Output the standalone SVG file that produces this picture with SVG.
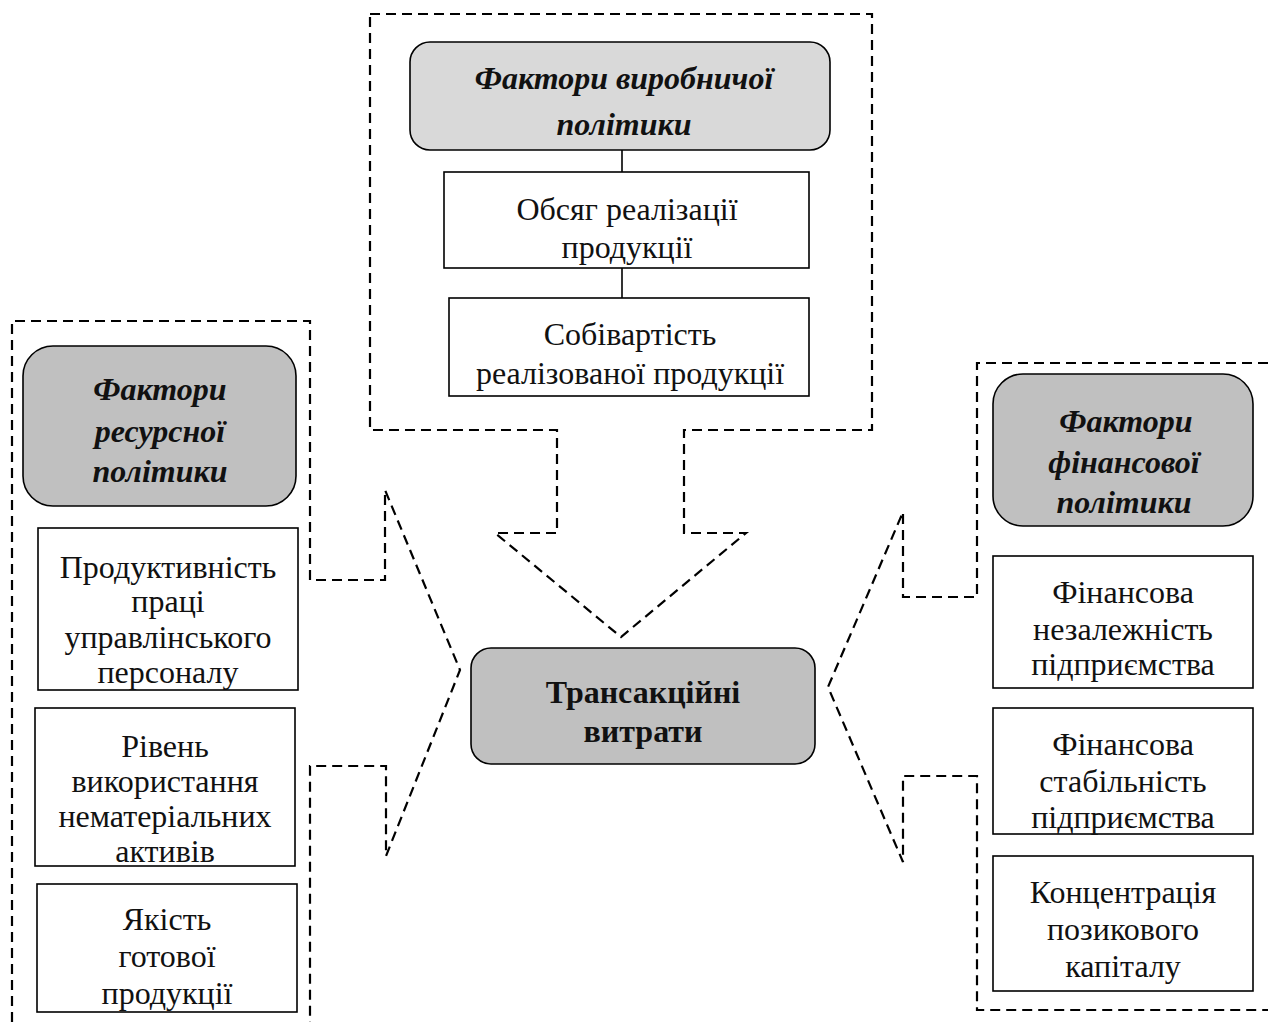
<svg xmlns="http://www.w3.org/2000/svg" width="1268" height="1022" viewBox="0 0 1268 1022">
  <style>
    .dash { fill: none; stroke: #000; stroke-width: 2.2; stroke-dasharray: 10 6; stroke-linejoin: miter; }
    .box { fill: #fff; stroke: #000; stroke-width: 1.6; }
    .head { fill: #c0c0c0; stroke: #000; stroke-width: 1.6; }
    .head-light { fill: #d9d9d9; stroke: #000; stroke-width: 1.6; }
    .link { stroke: #000; stroke-width: 1.6; }
    text { font-family: "Liberation Serif", "Times New Roman", serif; font-size: 32px; fill: #111; text-anchor: middle; }
    .hd { font-weight: bold; font-style: italic; }
    .bd { font-weight: bold; }
  </style>
  <rect width="1268" height="1022" fill="#fff"/>

  <!-- dashed outlines: each policy group with its arrow toward the centre -->
  <g id="connectors">
    <path class="dash" d="M370,14 H872 V430 H684 V533 H746 L621,637 L495,533 H557 V430 H370 Z"/>
    <path class="dash" d="M12,1022 V321 H310 V580 H385 V490 L460,670 L386,856 V766 H310 V1022"/>
    <path class="dash" d="M1268,363 H977 V597 H903 V512 L828,687 L903,862 V776 H977 V1010 H1268"/>
    <line class="link" x1="622" y1="150" x2="622" y2="172"/>
    <line class="link" x1="622" y1="268" x2="622" y2="298"/>
  </g>

  <!-- production policy -->
  <g id="production-head">
    <rect class="head-light" x="410" y="42" width="420" height="108" rx="20"/>
    <text class="hd" x="624" y="89">Фактори виробничої</text>
    <text class="hd" x="624" y="135">політики</text>
  </g>
  <g id="sales-volume">
    <rect class="box" x="444" y="172" width="365" height="96"/>
    <text x="627" y="220">Обсяг реалізації</text>
    <text x="627" y="258">продукції</text>
  </g>
  <g id="cost-of-sales">
    <rect class="box" x="449" y="298" width="360" height="98"/>
    <text x="630" y="345">Собівартість</text>
    <text x="630" y="384">реалізованої продукції</text>
  </g>

  <!-- resource policy -->
  <g id="resource-head">
    <rect class="head" x="23" y="346" width="273" height="160" rx="30"/>
    <text class="hd" x="160" y="400">Фактори</text>
    <text class="hd" x="160" y="442">ресурсної</text>
    <text class="hd" x="160" y="482">політики</text>
  </g>
  <g id="labour-productivity">
    <rect class="box" x="38" y="528" width="260" height="162"/>
    <text x="168" y="578">Продуктивність</text>
    <text x="168" y="612">праці</text>
    <text x="168" y="648">управлінського</text>
    <text x="168" y="683">персоналу</text>
  </g>
  <g id="intangible-assets">
    <rect class="box" x="35" y="708" width="260" height="158"/>
    <text x="165" y="757">Рівень</text>
    <text x="165" y="792">використання</text>
    <text x="165" y="827">нематеріальних</text>
    <text x="165" y="862">активів</text>
  </g>
  <g id="product-quality">
    <rect class="box" x="37" y="884" width="260" height="128"/>
    <text x="167" y="930">Якість</text>
    <text x="167" y="967">готової</text>
    <text x="167" y="1004">продукції</text>
  </g>

  <!-- centre -->
  <g id="transaction-costs">
    <rect class="head" x="471" y="648" width="344" height="116" rx="20"/>
    <text class="bd" x="643" y="703">Трансакційні</text>
    <text class="bd" x="643" y="742">витрати</text>
  </g>

  <!-- financial policy -->
  <g id="financial-head">
    <rect class="head" x="993" y="374" width="260" height="152" rx="30"/>
    <text class="hd" x="1126" y="432">Фактори</text>
    <text class="hd" x="1124" y="473">фінансової</text>
    <text class="hd" x="1124" y="513">політики</text>
  </g>
  <g id="financial-independence">
    <rect class="box" x="993" y="556" width="260" height="132"/>
    <text x="1123" y="603">Фінансова</text>
    <text x="1123" y="640">незалежність</text>
    <text x="1123" y="675">підприємства</text>
  </g>
  <g id="financial-stability">
    <rect class="box" x="993" y="708" width="260" height="126"/>
    <text x="1123" y="755">Фінансова</text>
    <text x="1123" y="792">стабільність</text>
    <text x="1123" y="828">підприємства</text>
  </g>
  <g id="borrowed-capital">
    <rect class="box" x="993" y="856" width="260" height="135"/>
    <text x="1123" y="903">Концентрація</text>
    <text x="1123" y="940">позикового</text>
    <text x="1123" y="977">капіталу</text>
  </g>
</svg>
